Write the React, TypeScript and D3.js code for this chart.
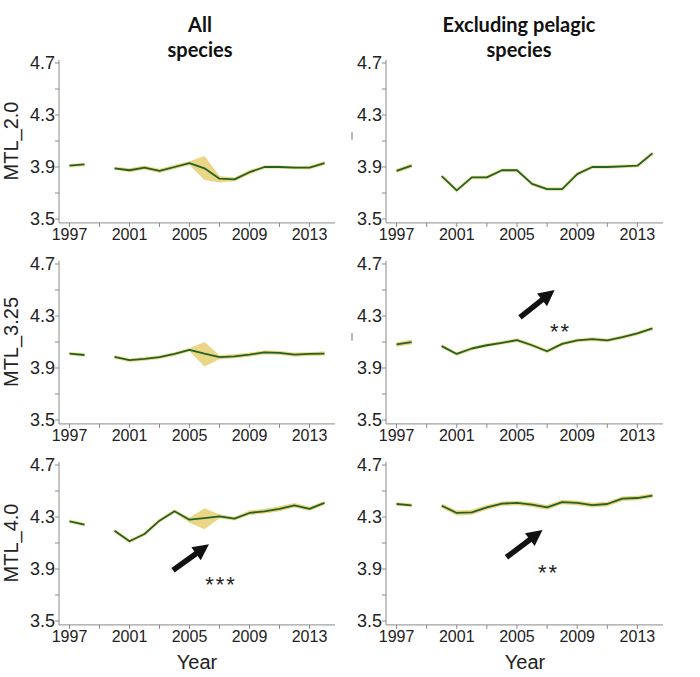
import React, { useEffect, useRef } from 'react';
import * as d3 from 'd3';

// Years on the x axis (1999 is missing in every series)
const years = [1997, 1998, 1999, 2000, 2001, 2002, 2003, 2004, 2005, 2006, 2007, 2008, 2009, 2010, 2011, 2012, 2013, 2014];
const yearTicks = [1997, 2001, 2005, 2009, 2013];
const valueTicks = [3.5, 3.9, 4.3, 4.7];

const columnTitles = [['All', 'species'], ['Excluding pelagic', 'species']];
const rowLabels = ['MTL_2.0', 'MTL_3.25', 'MTL_4.0'];

type V = number | null;

// MTL_2.0
const mtl20AllMean: V[] = [3.91, 3.92, null, 3.89, 3.875, 3.895, 3.87, 3.9, 3.93, 3.89, 3.81, 3.805, 3.86, 3.9, 3.9, 3.895, 3.895, 3.93];
const mtl20AllUpper: V[] = [3.92, 3.93, null, 3.9, 3.89, 3.91, 3.885, 3.915, 3.945, 3.985, 3.83, 3.82, 3.875, 3.91, 3.91, 3.905, 3.905, 3.945];
const mtl20AllLower: V[] = [3.9, 3.91, null, 3.88, 3.86, 3.88, 3.855, 3.885, 3.915, 3.8, 3.78, 3.79, 3.845, 3.89, 3.89, 3.885, 3.885, 3.915];

const mtl20ExMean: V[] = [3.87, 3.91, null, 3.83, 3.72, 3.82, 3.82, 3.875, 3.875, 3.77, 3.73, 3.73, 3.845, 3.9, 3.9, 3.905, 3.91, 4.005];
const mtl20ExUpper: V[] = [3.885, 3.925, null, 3.84, 3.73, 3.83, 3.83, 3.885, 3.885, 3.78, 3.74, 3.74, 3.855, 3.91, 3.91, 3.915, 3.92, 4.015];
const mtl20ExLower: V[] = [3.855, 3.895, null, 3.82, 3.71, 3.81, 3.81, 3.865, 3.865, 3.76, 3.72, 3.72, 3.835, 3.89, 3.89, 3.895, 3.9, 3.995];

// MTL_3.25
const mtl325AllMean: V[] = [4.01, 4.0, null, 3.985, 3.96, 3.97, 3.983, 4.008, 4.04, 4.01, 3.983, 3.99, 4.003, 4.02, 4.016, 4.003, 4.008, 4.011];
const mtl325AllUpper: V[] = [4.02, 4.01, null, 3.995, 3.972, 3.982, 3.995, 4.02, 4.052, 4.1, 3.998, 4.005, 4.018, 4.035, 4.03, 4.018, 4.022, 4.026];
const mtl325AllLower: V[] = [4.0, 3.99, null, 3.975, 3.948, 3.958, 3.971, 3.996, 4.028, 3.912, 3.968, 3.975, 3.988, 4.005, 4.002, 3.988, 3.994, 3.996];

const mtl325ExMean: V[] = [4.081, 4.099, null, 4.068, 4.008, 4.05, 4.075, 4.094, 4.114, 4.075, 4.029, 4.086, 4.112, 4.122, 4.112, 4.137, 4.166, 4.204];
const mtl325ExUpper: V[] = [4.099, 4.117, null, 4.08, 4.02, 4.062, 4.087, 4.106, 4.126, 4.087, 4.041, 4.098, 4.124, 4.134, 4.124, 4.149, 4.178, 4.216];
const mtl325ExLower: V[] = [4.063, 4.081, null, 4.056, 3.996, 4.038, 4.063, 4.082, 4.102, 4.063, 4.017, 4.074, 4.1, 4.11, 4.1, 4.125, 4.154, 4.192];

// MTL_4.0
const mtl40AllMean: V[] = [4.267, 4.241, null, 4.195, 4.113, 4.169, 4.272, 4.344, 4.279, 4.292, 4.305, 4.287, 4.331, 4.344, 4.362, 4.39, 4.362, 4.408];
const mtl40AllUpper: V[] = [4.277, 4.251, null, 4.205, 4.123, 4.179, 4.282, 4.354, 4.295, 4.367, 4.32, 4.3, 4.35, 4.364, 4.382, 4.408, 4.378, 4.42];
const mtl40AllLower: V[] = [4.257, 4.231, null, 4.185, 4.103, 4.159, 4.262, 4.334, 4.255, 4.205, 4.29, 4.275, 4.315, 4.326, 4.344, 4.374, 4.348, 4.396];

const mtl40ExMean: V[] = [4.4, 4.39, null, 4.387, 4.331, 4.336, 4.374, 4.403, 4.408, 4.395, 4.374, 4.415, 4.408, 4.392, 4.4, 4.441, 4.446, 4.464];
const mtl40ExUpper: V[] = [4.412, 4.402, null, 4.403, 4.35, 4.355, 4.392, 4.42, 4.425, 4.413, 4.392, 4.432, 4.425, 4.41, 4.418, 4.458, 4.463, 4.48];
const mtl40ExLower: V[] = [4.388, 4.378, null, 4.371, 4.312, 4.317, 4.356, 4.386, 4.391, 4.377, 4.356, 4.398, 4.391, 4.374, 4.382, 4.424, 4.429, 4.448];

// Panels, row by row, [all species, excluding pelagic]
const panels = [
  [
    { mean: mtl20AllMean, upper: mtl20AllUpper, lower: mtl20AllLower },
    { mean: mtl20ExMean, upper: mtl20ExUpper, lower: mtl20ExLower },
  ],
  [
    { mean: mtl325AllMean, upper: mtl325AllUpper, lower: mtl325AllLower },
    { mean: mtl325ExMean, upper: mtl325ExUpper, lower: mtl325ExLower },
  ],
  [
    { mean: mtl40AllMean, upper: mtl40AllUpper, lower: mtl40AllLower },
    { mean: mtl40ExMean, upper: mtl40ExUpper, lower: mtl40ExLower },
  ],
];

// Trend arrows, in data coordinates: [row, col, tailYear, tailValue, tipYear, tipValue, label, labelYear, labelValue]
const trendArrows: [number, number, number, number, number, number, string, number, number][] = [
  [1, 1, 2005.2, 4.29, 2007.5, 4.5, '**', 2007.9, 4.25],
  [2, 0, 2003.9, 3.89, 2006.3, 4.09, '***', 2007.1, 3.85],
  [2, 1, 2004.3, 3.99, 2006.7, 4.2, '**', 2007.1, 3.94],
];

const App: React.FC = () => {
  const ref = useRef<SVGSVGElement>(null);

  useEffect(() => {
    if (!ref.current) return;
    const svg = d3.select(ref.current);
    svg.selectAll('*').remove();

    const font = '"Liberation Sans", Arial, sans-serif';
    const colRanges = [[59, 335], [386, 663]];
    const colCenters = [200, 519];
    const rowTops = [63, 264, 465];
    const pxPerUnit = 130;

    const lineColor = '#24602a';
    const bandColor = '#e8d27a';
    const axisColor = '#8a8a8a';

    // Column titles
    columnTitles.forEach((lines, c) => {
      lines.forEach((t, i) => {
        svg.append('text')
          .attr('x', colCenters[c])
          .attr('y', 32 + i * 25)
          .attr('text-anchor', 'middle')
          .style('font-family', 'Lato, "Open Sans", sans-serif')
          .style('font-weight', 'bold')
          .style('font-size', '20px')
          .attr('fill', '#111')
          .text(t);
      });
    });

    panels.forEach((row, r) => {
      const top = rowTops[r];
      const y = d3.scaleLinear()
        .domain([4.7 - 156 / pxPerUnit, 4.7])
        .range([top + 156, top]);
      const yMin = 3.47;
      const yMax = 4.725;

      row.forEach((p, c) => {
        const x = d3.scaleLinear().domain([1996.3, 2014.7]).range(colRanges[c]);
        const g = svg.append('g');
        const bottom = y(yMin);

        // y axis
        g.append('line')
          .attr('x1', x(1996.3)).attr('x2', x(1996.3))
          .attr('y1', y(yMax)).attr('y2', bottom)
          .attr('stroke', axisColor).attr('stroke-width', 1);
        d3.range(3.5, 4.71, 0.2).forEach(v => {
          g.append('line')
            .attr('x1', x(1996.3) - 4).attr('x2', x(1996.3))
            .attr('y1', y(v)).attr('y2', y(v))
            .attr('stroke', axisColor);
        });
        valueTicks.forEach(v => {
          g.append('text')
            .attr('x', x(1996.3) - 4)
            .attr('y', y(v))
            .attr('dy', '0.36em')
            .attr('text-anchor', 'end')
            .style('font-family', font)
            .style('font-size', '18px')
            .attr('fill', '#222')
            .text(v.toFixed(1));
        });

        // x axis
        g.append('line')
          .attr('x1', x(1996.3)).attr('x2', x(2014.7))
          .attr('y1', bottom).attr('y2', bottom)
          .attr('stroke', axisColor);
        d3.range(1997, 2015, 2).forEach(yr => {
          g.append('line')
            .attr('x1', x(yr)).attr('x2', x(yr))
            .attr('y1', bottom).attr('y2', bottom + 4)
            .attr('stroke', axisColor);
        });
        yearTicks.forEach(yr => {
          g.append('text')
            .attr('x', x(yr))
            .attr('y', bottom + 17)
            .attr('text-anchor', 'middle')
            .style('font-family', font)
            .style('font-size', '16px')
            .attr('fill', '#222')
            .text(yr);
        });

        // confidence band
        const idx = years.map((_, i) => i);
        const area = d3.area<number>()
          .defined(i => p.mean[i] !== null)
          .x(i => x(years[i]))
          .y0(i => y(p.lower[i] as number))
          .y1(i => y(p.upper[i] as number));
        g.append('path')
          .attr('d', area(idx)!)
          .attr('fill', bandColor)
          .attr('opacity', 0.9);

        // mean line with a soft yellow halo
        const line = d3.line<number>()
          .defined(i => p.mean[i] !== null)
          .x(i => x(years[i]))
          .y(i => y(p.mean[i] as number));
        g.append('path')
          .attr('d', line(idx)!)
          .attr('fill', 'none')
          .attr('stroke', '#e6dc72')
          .attr('stroke-width', 4)
          .attr('opacity', 0.45);
        g.append('path')
          .attr('d', line(idx)!)
          .attr('fill', 'none')
          .attr('stroke', lineColor)
          .attr('stroke-width', 1.8)
          .attr('stroke-linejoin', 'round');

        // small stray mark left of the right-hand panels
        if (c === 1 && r < 2) {
          g.append('line')
            .attr('x1', 352).attr('x2', 352)
            .attr('y1', y(4.17)).attr('y2', y(4.11))
            .attr('stroke', '#7d8ca3')
            .attr('stroke-width', 1.2);
        }
      });

      // row label
      svg.append('text')
        .attr('transform', `translate(18,${y(4.1)}) rotate(-90)`)
        .attr('text-anchor', 'middle')
        .style('font-family', font)
        .style('font-size', '20px')
        .attr('fill', '#222')
        .text(rowLabels[r]);

      // arrows
      trendArrows.filter(a => a[0] === r).forEach(a => {
        const [, c, tx, tv, hx, hv, label, lx, lv] = a;
        const x = d3.scaleLinear().domain([1996.3, 2014.7]).range(colRanges[c]);
        const x1 = x(tx), y1 = y(tv), x2 = x(hx), y2 = y(hv);
        const ang = Math.atan2(y2 - y1, x2 - x1);
        const headLen = 16, headW = 8;
        const bx = x2 - Math.cos(ang) * headLen;
        const by = y2 - Math.sin(ang) * headLen;
        svg.append('line')
          .attr('x1', x1).attr('y1', y1)
          .attr('x2', bx + Math.cos(ang) * 2).attr('y2', by + Math.sin(ang) * 2)
          .attr('stroke', '#111')
          .attr('stroke-width', 5.5);
        const px = -Math.sin(ang), py = Math.cos(ang);
        svg.append('path')
          .attr('d', `M${x2},${y2}L${bx + px * headW},${by + py * headW}L${bx - px * headW},${by - py * headW}Z`)
          .attr('fill', '#111');
        svg.append('text')
          .attr('x', x(lx))
          .attr('y', y(lv))
          .attr('dy', '0.75em')
          .attr('text-anchor', 'middle')
          .style('font-family', font)
          .style('font-size', '22px')
          .style('letter-spacing', '2px')
          .attr('fill', '#222')
          .text(label);
      });
    });

    // x axis titles
    [197, 525].forEach(cx => {
      svg.append('text')
        .attr('x', cx)
        .attr('y', 669)
        .attr('text-anchor', 'middle')
        .style('font-family', font)
        .style('font-size', '20px')
        .attr('fill', '#222')
        .text('Year');
    });
  }, []);

  return (
    <svg
      ref={ref}
      width={700}
      height={677}
      style={{ position: 'absolute', left: 0, top: 0, background: '#fff' }}
    />
  );
};

export default App;
